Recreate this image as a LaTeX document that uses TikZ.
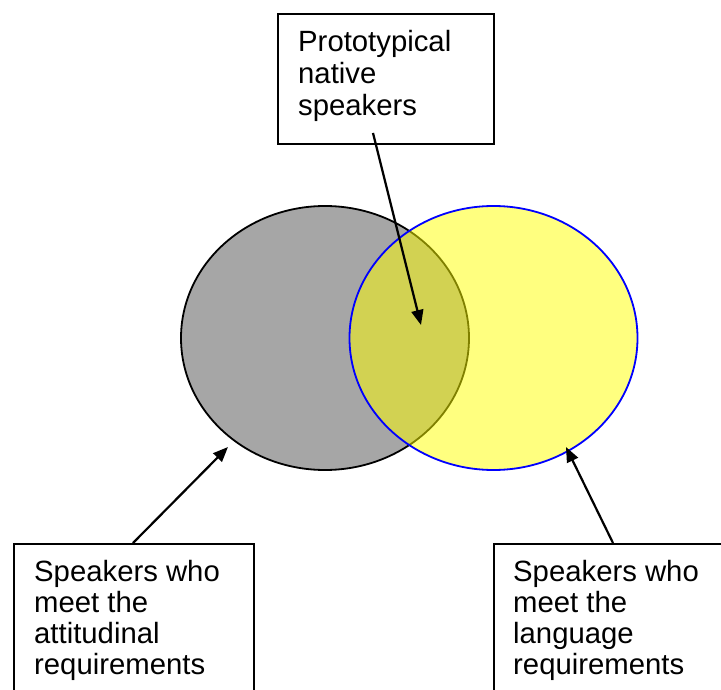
\documentclass[tikz,border=0pt]{standalone}
\usepackage{fontspec}
\setmainfont{Liberation Sans}
\usetikzlibrary{shapes.geometric,arrows.meta}
\definecolor{grayfill}{RGB}{166,166,166}
\definecolor{pureyellow}{RGB}{255,255,0}
\definecolor{pureblue}{RGB}{0,0,255}
\tikzset{
  box/.style={draw=black, line width=1.8pt, rectangle, anchor=north west, inner sep=0pt},
  txt/.style={anchor=base west, inner sep=0pt, font=\fontsize{29.3pt}{31.5pt}\selectfont},
  conn/.style={line width=2.2pt, -{Triangle[length=15pt,width=12pt]}},
  setshape/.style={ellipse, inner sep=0pt, minimum width=288pt, minimum height=264pt, line width=1.8pt}
}
\begin{document}
\begin{tikzpicture}[x=1pt,y=-1pt]
\useasboundingbox (0,0) rectangle (721,690);
\clip (0,0) rectangle (721,690);
% sets
\node[setshape, draw=black, fill=grayfill] (att) at (325,338) {};
\node[setshape, draw=pureblue, fill=pureyellow, fill opacity=0.5, draw opacity=1] (lang) at (493.5,338) {};
% boxes
\node[box, minimum width=216pt, minimum height=130pt] (topbox) at (277,13) {};
\node[box, minimum width=240pt, minimum height=200pt] (leftbox) at (13,543) {};
\node[box, minimum width=240pt, minimum height=200pt] (rightbox) at (493,543) {};
% texts
\node[txt] (toptext) at (298,51.7) {\vtop{\baselineskip=31.7pt\hbox{Prototypical}\hbox{native}\hbox{speakers}}};
\node[txt] (lefttext) at (34,581) {\vtop{\baselineskip=31pt\hbox{Speakers who}\hbox{meet the}\hbox{attitudinal}\hbox{requirements}}};
\node[txt] (righttext) at (513,581) {\vtop{\baselineskip=31pt\hbox{Speakers who}\hbox{meet the}\hbox{language}\hbox{requirements}}};
% connector ends
\coordinate (topstart) at (373,133);
\coordinate (overlap) at (421,325);
\coordinate (leftstart) at (133,543);
\coordinate (atttip) at (228,447);
\coordinate (rightstart) at (613,543);
\coordinate (langtip) at (566,447);
\draw[conn] (topstart) -- (overlap);
\draw[conn] (leftstart) -- (atttip);
\draw[conn] (rightstart) -- (langtip);
\end{tikzpicture}
\end{document}
